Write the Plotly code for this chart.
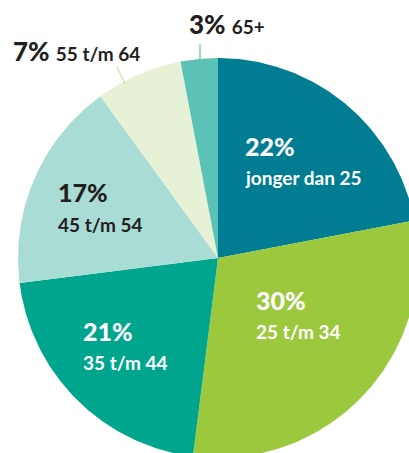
import numpy as np
import plotly.graph_objects as go

# ---- data ----
categories = ["jonger dan 25", "25 t/m 34", "35 t/m 44", "45 t/m 54", "55 t/m 64", "65+"]
percentages = [22, 30, 21, 17, 7, 3]
colors = ["#007d93", "#9bc83d", "#00a58e", "#aadcd6", "#e6f1d5", "#5cc2b8"]

# ---- layout (pixel-like coordinate system) ----
W, H = 409, 453
CX, CY, R = 218, 258, 200

fig = go.Figure()

total = float(sum(percentages))
start = 0.0
for cat, val, col in zip(categories, percentages, colors):
    span = 360.0 * val / total
    theta = np.radians(np.linspace(start, start + span, max(int(span * 2), 4)))
    xs = np.concatenate([[CX], CX + R * np.sin(theta), [CX]])
    ys = np.concatenate([[CY], CY - R * np.cos(theta), [CY]])
    fig.add_trace(go.Scatter(x=xs, y=ys, mode="lines", fill="toself",
                             fillcolor=col, line=dict(width=0, color=col),
                             hoverinfo="text", text=f"{val}% {cat}", name=cat,
                             showlegend=False))
    start += span

DARK = "#231f20"
FONT = "Lato"

# inside labels: (x, y of percent, y of sublabel, color)
inside = {
    0: (243, 146, 177, "white"),
    1: (254, 300, 331, "white"),
    2: (81, 331, 362, "white"),
    3: (56, 192, 224, DARK),
}
for i, (x, yp, ys, col) in inside.items():
    fig.add_annotation(x=x, y=yp, xref="x", yref="y", text=f"{percentages[i]}%",
                       showarrow=False, xanchor="left", yanchor="middle",
                       font=dict(family=FONT, size=25, color=col, weight=900))
    fig.add_annotation(x=x, y=ys, xref="x", yref="y", text=f"{categories[i]}",
                       showarrow=False, xanchor="left", yanchor="middle",
                       font=dict(family=FONT, size=19, color=col, weight=700))

# outside labels
outside = {
    4: (11, 51),
    5: (187, 24),
}
for i, (x, y) in outside.items():
    fig.add_annotation(x=x, y=y, xref="x", yref="y",
                       text=f"{percentages[i]}% <span style='font-size:19px;font-weight:700'>{categories[i]}</span>",
                       showarrow=False, xanchor="left", yanchor="middle",
                       font=dict(family=FONT, size=26, color=DARK, weight=900))

# leader lines
fig.add_shape(type="line", x0=117, y0=67, x1=125, y1=84, xref="x", yref="y",
              line=dict(color="#cfe0a8", width=1.2))
fig.add_shape(type="line", x0=200, y0=44, x1=200, y1=59, xref="x", yref="y",
              line=dict(color=colors[5], width=1.2))

fig.update_xaxes(range=[0, W], visible=False, fixedrange=True)
fig.update_yaxes(range=[H, 0], visible=False, fixedrange=True)
fig.update_layout(width=W, height=H, margin=dict(l=0, r=0, t=0, b=0),
                  paper_bgcolor="white", plot_bgcolor="white")

fig.write_html("out.html",
               config={"displayModeBar": False},
               post_script="document.body.style.margin='0';document.body.style.overflow='hidden';")
